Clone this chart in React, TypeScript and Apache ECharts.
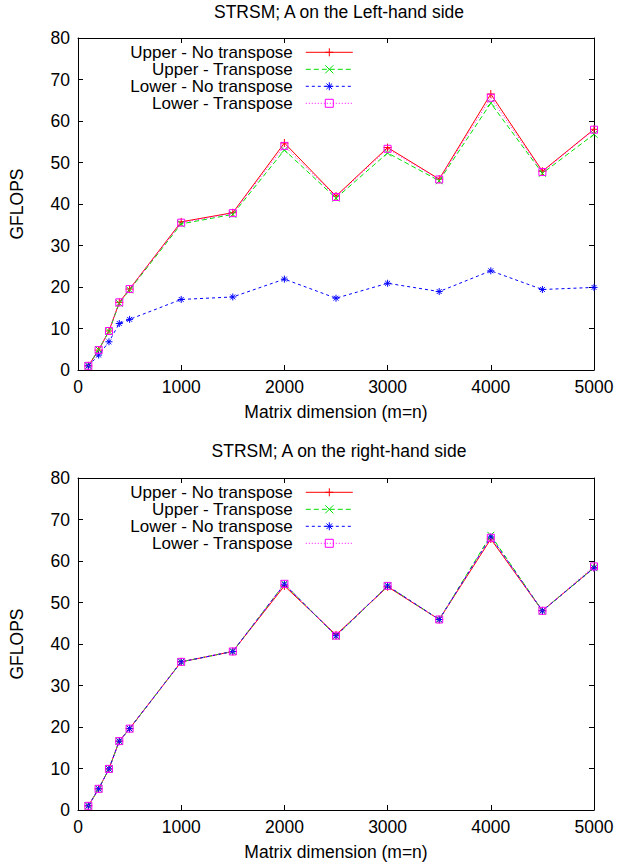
import React, { useEffect, useRef } from "react";
import * as echarts from "echarts";

const SIZES = [100, 200, 300, 400, 500, 1000, 1500, 2000, 2500, 3000, 3500, 4000, 4500, 5000];
const X_TICKS = [0, 1000, 2000, 3000, 4000, 5000];
const Y_TICKS = [0, 10, 20, 30, 40, 50, 60, 70, 80];

const SERIES_NAMES = ["Upper - No transpose", "Upper - Transpose", "Lower - No transpose", "Lower - Transpose"];

// Left-hand side
const LEFT_UPPER_NT = [1.0, 4.8, 9.4, 16.3, 19.5, 35.7, 37.9, 54.7, 41.9, 53.6, 46.0, 66.5, 47.9, 58.0];
const LEFT_UPPER_T = [1.0, 4.9, 9.3, 16.1, 19.3, 35.2, 37.5, 53.0, 41.4, 52.3, 45.6, 64.3, 47.4, 56.8];
const LEFT_LOWER_NT = [1.0, 3.6, 6.8, 11.2, 12.2, 17.0, 17.6, 21.9, 17.3, 20.9, 18.9, 23.9, 19.4, 19.9];
const LEFT_LOWER_T = [1.0, 4.8, 9.4, 16.3, 19.5, 35.5, 37.8, 54.0, 41.7, 53.3, 45.9, 65.6, 47.7, 57.9];

// Right-hand side
const RIGHT_UPPER_NT = [1.0, 5.1, 9.9, 16.6, 19.6, 35.7, 38.2, 54.0, 42.2, 53.8, 45.9, 65.3, 48.0, 58.4];
const RIGHT_UPPER_T = [1.0, 5.1, 9.9, 16.6, 19.6, 35.7, 38.2, 54.5, 41.9, 54.0, 45.9, 66.2, 48.0, 58.4];
const RIGHT_LOWER_NT = [1.0, 5.1, 9.9, 16.6, 19.6, 35.7, 38.2, 54.4, 42.0, 54.0, 45.9, 65.8, 48.0, 58.3];
const RIGHT_LOWER_T = [1.0, 5.1, 9.9, 16.6, 19.6, 35.7, 38.2, 54.5, 42.0, 54.0, 45.9, 65.6, 48.0, 58.7];

const TITLES = ["STRSM; A on the Left-hand side", "STRSM; A on the right-hand side"];
const X_NAME = "Matrix dimension (m=n)";
const Y_NAME = "GFLOPS";

const FONT = "Liberation Sans, Arial, sans-serif";
const FS = 17.5;
const LEGEND_FS = 17;

const PLUS = "path://M5 0L5 10M0 5L10 5";
const CROSS = "path://M0 0L10 10M10 0L0 10";
const STAR = "path://M5 0L5 10M0 5L10 5M1.5 1.5L8.5 8.5M8.5 1.5L1.5 8.5";

const STYLES = [
  { color: "#ff0000", type: "solid", symbol: PLUS, size: 8 },
  { color: "#00e000", type: [5, 3], symbol: CROSS, size: 7 },
  { color: "#0000ff", type: [3, 3], symbol: STAR, size: 7 },
  { color: "#ff00ff", type: [1, 2], symbol: "rect", size: 7 },
];

export default function App() {
  const ref = useRef<HTMLDivElement>(null);
  useEffect(() => {
    if (!ref.current) return;
    const chart = echarts.init(ref.current, null, { renderer: "svg" });

    const grids = [
      { left: 77.5, top: 38, width: 516.5, height: 332 },
      { left: 77.5, top: 478, width: 516.5, height: 332 },
    ];

    const axisLine = { show: true, onZero: false, lineStyle: { color: "#000", width: 1 } };
    const axisTick = { show: true, inside: true, length: 5, lineStyle: { color: "#000", width: 1 } };

    const xAxes: any[] = [];
    const yAxes: any[] = [];
    [0, 1].forEach((g) => {
      xAxes.push({
        gridIndex: g, type: "value", position: "bottom",
        min: X_TICKS[0], max: X_TICKS[X_TICKS.length - 1], interval: X_TICKS[1] - X_TICKS[0],
        name: X_NAME, nameLocation: "middle", nameGap: 33,
        nameTextStyle: { fontSize: FS, fontFamily: FONT, color: "#000" },
        axisLine, axisTick,
        axisLabel: { fontSize: FS, fontFamily: FONT, color: "#000", margin: 8, formatter: (v: number) => String(v) },
        splitLine: { show: false },
      });
      xAxes.push({
        gridIndex: g, type: "value", position: "top",
        min: X_TICKS[0], max: X_TICKS[X_TICKS.length - 1], interval: X_TICKS[1] - X_TICKS[0],
        axisLine, axisTick, axisLabel: { show: false }, splitLine: { show: false },
      });
      yAxes.push({
        gridIndex: g, type: "value", position: "left",
        min: Y_TICKS[0], max: Y_TICKS[Y_TICKS.length - 1], interval: Y_TICKS[1] - Y_TICKS[0],
        name: Y_NAME, nameLocation: "middle", nameGap: 52,
        nameTextStyle: { fontSize: FS, fontFamily: FONT, color: "#000" },
        axisLine, axisTick,
        axisLabel: { fontSize: FS, fontFamily: FONT, color: "#000", margin: 8, formatter: (v: number) => String(v) },
        splitLine: { show: false },
      });
      yAxes.push({
        gridIndex: g, type: "value", position: "right",
        min: Y_TICKS[0], max: Y_TICKS[Y_TICKS.length - 1], interval: Y_TICKS[1] - Y_TICKS[0],
        axisLine, axisTick, axisLabel: { show: false }, splitLine: { show: false },
      });
    });

    const datasets = [
      [LEFT_UPPER_NT, LEFT_UPPER_T, LEFT_LOWER_NT, LEFT_LOWER_T],
      [RIGHT_UPPER_NT, RIGHT_UPPER_T, RIGHT_LOWER_NT, RIGHT_LOWER_T],
    ];

    const series: any[] = [];
    datasets.forEach((set, g) => {
      set.forEach((vals, i) => {
        const st = STYLES[i];
        series.push({
          type: "line",
          name: SERIES_NAMES[i],
          xAxisIndex: g * 2,
          yAxisIndex: g * 2,
          data: SIZES.map((x, k) => [x, vals[k]]),
          symbol: st.symbol,
          symbolSize: st.size,
          showAllSymbol: true,
          lineStyle: { color: st.color, width: 1, type: st.type },
          itemStyle: { color: "transparent", borderColor: st.color, borderWidth: 1 },
          emphasis: { disabled: true },
          z: 2 + i,
        });
      });
    });

    const legendBase = {
      orient: "vertical",
      align: "right",
      right: 263.7,
      itemWidth: 47,
      itemHeight: 10,
      itemGap: 0,
      padding: 0,
      selectedMode: false,
      textStyle: { fontSize: LEGEND_FS, lineHeight: 17, height: 17, fontFamily: FONT, color: "#000", padding: [0, 8, 0, 0] },
      lineStyle: { width: 1 },
      itemStyle: { borderWidth: 1 },
      data: SERIES_NAMES,
    };

    chart.setOption({
      animation: false,
      backgroundColor: "#fff",
      title: [
        { text: TITLES[0], left: 339, top: 3, textAlign: "center", padding: 0,
          textStyle: { fontSize: FS, fontWeight: "normal", fontFamily: FONT, color: "#000" } },
        { text: TITLES[1], left: 339, top: 442, textAlign: "center", padding: 0,
          textStyle: { fontSize: FS, fontWeight: "normal", fontFamily: FONT, color: "#000" } },
      ],
      legend: [
        { ...legendBase, top: 43.8 },
        { ...legendBase, top: 483.8 },
      ],
      grid: grids,
      xAxis: xAxes,
      yAxis: yAxes,
      series,
    });

    return () => chart.dispose();
  }, []);

  return (
    <div
      ref={ref}
      style={{ position: "fixed", left: 0, top: 0, width: 617, height: 865, background: "#fff" }}
    />
  );
}
